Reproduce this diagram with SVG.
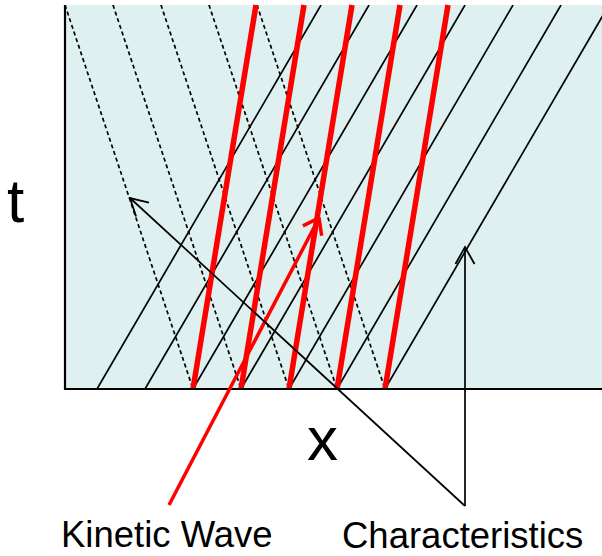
<svg xmlns="http://www.w3.org/2000/svg" width="602" height="556" viewBox="0 0 602 556">
<style>
.panel{fill:#dff0f0;stroke:none}
.axis{stroke:#000;stroke-width:2.2;fill:none}
.char{stroke:#000;stroke-width:1.7;fill:none}
.dash{stroke:#000;stroke-width:1.7;fill:none;stroke-dasharray:4,3}
.wave{stroke:#ff0000;stroke-width:5.5;fill:none}
.lbl{font-family:"Liberation Sans",Arial,sans-serif;fill:#000}
.ptr{stroke:#000;stroke-width:1.7;fill:none}
.ptrR{stroke:#ff0000;stroke-width:3.5;fill:none}
</style>
<defs>
<clipPath id="clip"><rect x="65" y="5" width="537" height="384"/></clipPath>
<marker id="ahK" viewBox="-20 -12 22 24" markerWidth="22" markerHeight="24" refX="0" refY="0" orient="auto" markerUnits="userSpaceOnUse">
<path d="M-17,-9.5 L0,0 L-17,9.5" fill="none" stroke="#000" stroke-width="1.8"/>
</marker>
<marker id="ahR" viewBox="-20 -14 22 28" markerWidth="22" markerHeight="28" refX="0" refY="0" orient="auto" markerUnits="userSpaceOnUse">
<path d="M-14.5,-10.6 L0,0 L-14.5,10.6" fill="none" stroke="#ff0000" stroke-width="3.5"/>
</marker>
</defs>
<g id="panel">
<rect class="panel" x="65" y="5" width="537" height="384"/>
</g>
<g id="characteristics-lines" clip-path="url(#clip)">
<line class="char" x1="97" y1="389" x2="321" y2="5"/>
<line class="char" x1="145" y1="389" x2="369" y2="5"/>
<line class="char" x1="193" y1="389" x2="417" y2="5"/>
<line class="char" x1="241" y1="389" x2="465" y2="5"/>
<line class="char" x1="289" y1="389" x2="513" y2="5"/>
<line class="char" x1="337" y1="389" x2="561" y2="5"/>
<line class="char" x1="385" y1="389" x2="609" y2="5"/>
<line class="dash" x1="65" y1="5" x2="193" y2="389"/>
<line class="dash" x1="113" y1="5" x2="241" y2="389"/>
<line class="dash" x1="161" y1="5" x2="289" y2="389"/>
<line class="dash" x1="209" y1="5" x2="337" y2="389"/>
<line class="dash" x1="257" y1="5" x2="385" y2="389"/>
</g>
<g id="kinetic-waves">
<line class="wave" x1="193" y1="389" x2="256" y2="5"/>
<line class="wave" x1="241" y1="389" x2="304" y2="5"/>
<line class="wave" x1="289" y1="389" x2="352" y2="5"/>
<line class="wave" x1="337" y1="389" x2="400" y2="5"/>
<line class="wave" x1="385" y1="389" x2="448" y2="5"/>
</g>
<g id="axes">
<path class="axis" d="M65,5 L65,389 L602,389"/>
</g>
<g id="connectors">
<line class="ptrR" x1="169" y1="505" x2="319" y2="218" marker-end="url(#ahR)"/>
<line class="ptr" x1="465" y1="506" x2="130" y2="198" marker-end="url(#ahK)"/>
<line class="ptr" x1="465" y1="506" x2="465" y2="247" marker-end="url(#ahK)"/>
</g>
<g id="label-t"><text class="lbl" x="7" y="222" font-size="62">t</text></g>
<g id="label-x"><text class="lbl" x="307" y="460" font-size="62">x</text></g>
<g id="label-kinetic-wave"><text class="lbl" x="61" y="547" font-size="36.5">Kinetic Wave</text></g>
<g id="label-characteristics"><text class="lbl" x="342" y="548" font-size="36.5">Characteristics</text></g>
</svg>
